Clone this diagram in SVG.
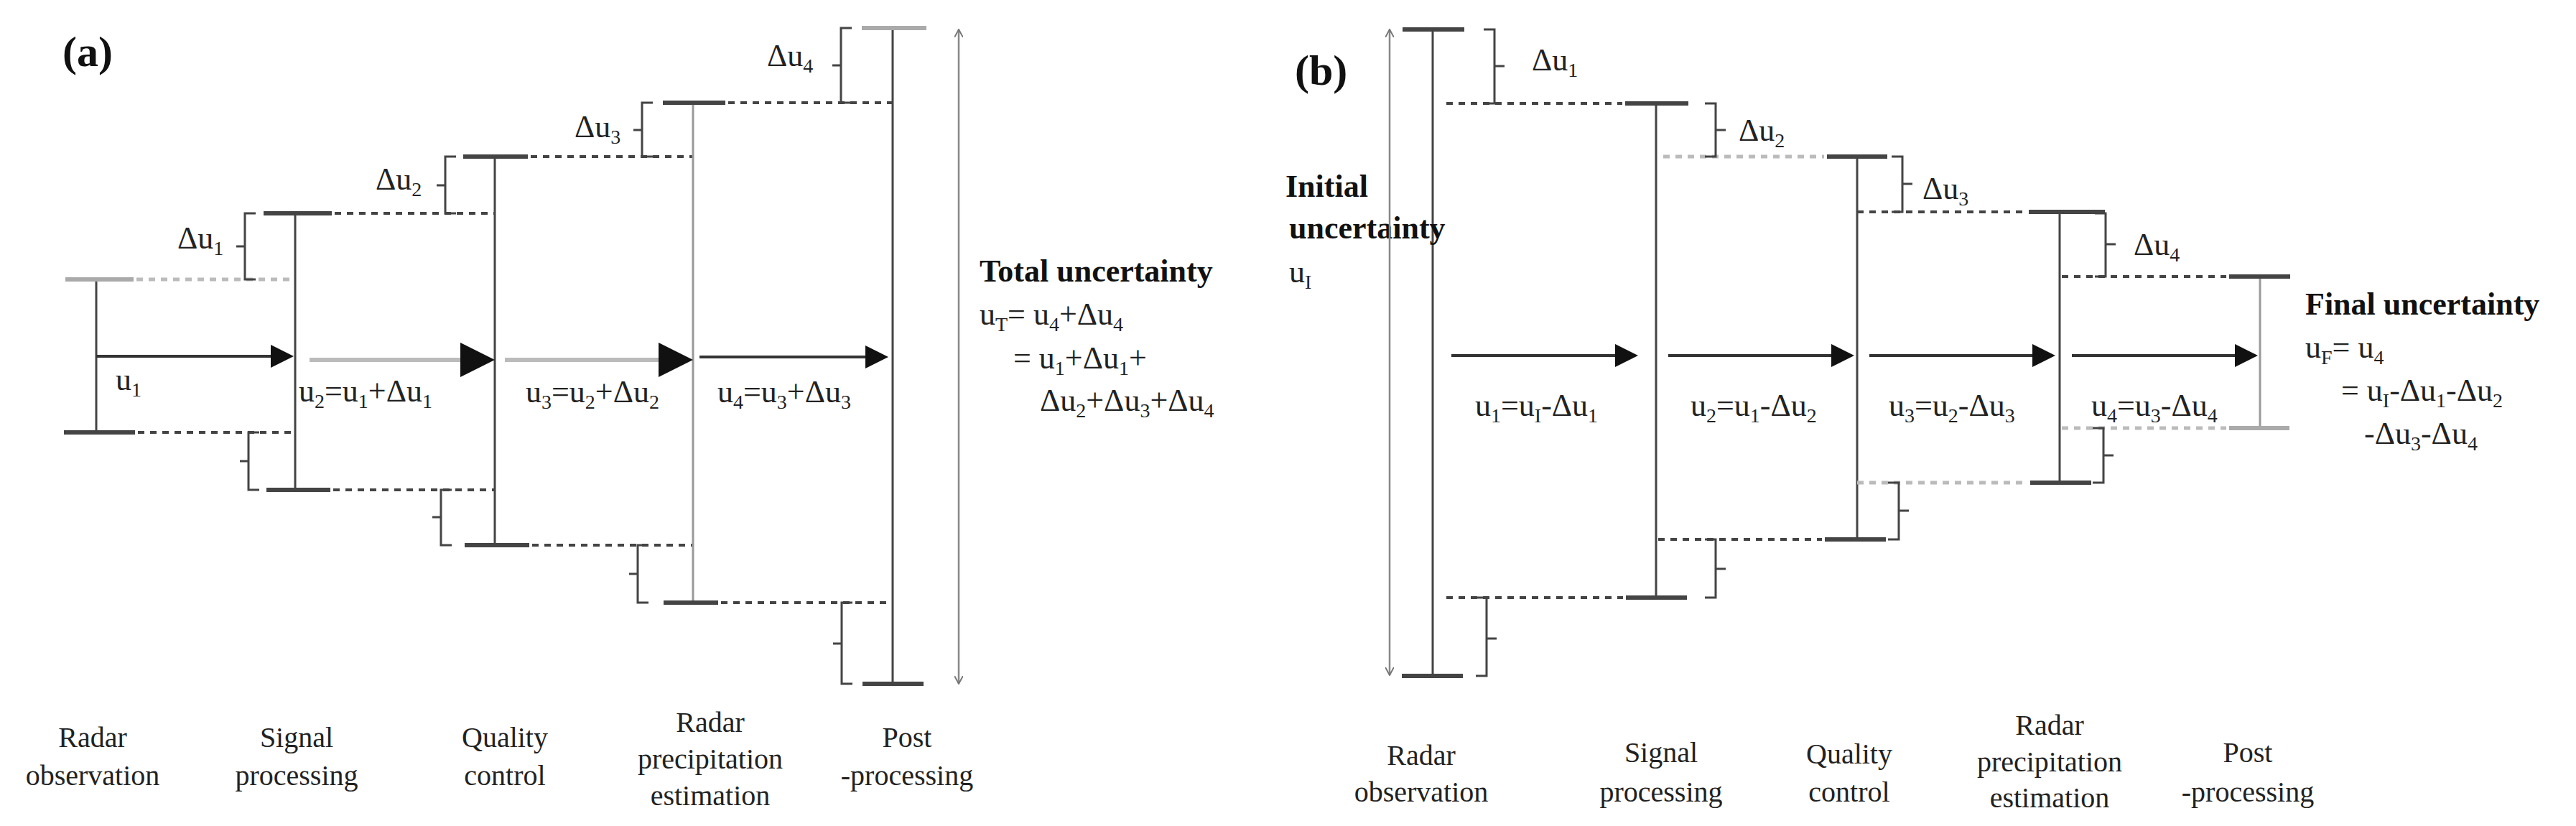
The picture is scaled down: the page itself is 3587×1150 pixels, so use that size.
<svg xmlns="http://www.w3.org/2000/svg" width="3587" height="1150" viewBox="0 0 3587 1150">
<defs>
<marker id="ah" markerWidth="8" markerHeight="8" refX="7" refY="4" orient="auto" markerUnits="strokeWidth"><path d="M0,0 L8,4 L0,8 z" fill="#111"/></marker>
<marker id="open" markerWidth="12" markerHeight="12" refX="11" refY="6" orient="auto-start-reverse" markerUnits="userSpaceOnUse"><path d="M0,0 L11,6 L0,12" fill="none" stroke="#777" stroke-width="2"/></marker>
</defs>
<style>
.t{font-family:"Liberation Serif",serif;font-size:44px;fill:#222}
.h{font-family:"Liberation Serif",serif;font-size:44px;font-weight:bold;fill:#111}
.p{font-family:"Liberation Serif",serif;font-size:60px;font-weight:bold;fill:#111}
.lb{font-family:"Liberation Serif",serif;font-size:40px;fill:#222;text-anchor:middle}
.b{font-size:28px}
.v{stroke:#444;stroke-width:3;fill:none}
.vg{stroke:#999;stroke-width:3;fill:none}
.bar{stroke:#444;stroke-width:6}
.barg{stroke:#aaa;stroke-width:6}
.d{stroke:#444;stroke-width:4;stroke-dasharray:9 8}
.dg{stroke:#bbb;stroke-width:5;stroke-dasharray:9 8}
.br{stroke:#444;stroke-width:3;fill:none}
.ar{stroke:#333;stroke-width:4;marker-end:url(#ah)}
.arg{stroke:#bbb;stroke-width:6;marker-end:url(#ah)}
.dbl{stroke:#888;stroke-width:2.5;marker-start:url(#open);marker-end:url(#open)}
</style>
<rect width="3587" height="1150" fill="#fff"/>

<g id="panel-a">
<text class="p" x="87" y="92">(a)</text>
<g id="a-obs">
<line class="v" x1="134" y1="389" x2="134" y2="602"/>
<line class="barg" x1="91" y1="389" x2="186" y2="389"/><line class="dg" x1="190" y1="389" x2="411" y2="389"/>
<line class="bar" x1="89" y1="602" x2="188" y2="602"/><line class="d" x1="192" y1="602" x2="411" y2="602"/>
<text class="lb" x="129" y="1040">Radar</text><text class="lb" x="129" y="1093">observation</text>
</g>
<g id="a-signal">
<line class="v" x1="411" y1="297" x2="411" y2="682"/>
<line class="bar" x1="367" y1="297" x2="462" y2="297"/><line class="d" x1="466" y1="297" x2="689" y2="297"/>
<line class="bar" x1="371" y1="682" x2="460" y2="682"/><line class="d" x1="464" y1="682" x2="689" y2="682"/>
<text class="lb" x="413" y="1040">Signal</text><text class="lb" x="413" y="1093">processing</text>
</g>
<g id="a-quality">
<line class="v" x1="689" y1="218" x2="689" y2="759"/>
<line class="bar" x1="645" y1="218" x2="735" y2="218"/><line class="d" x1="739" y1="218" x2="965" y2="218"/>
<line class="bar" x1="647" y1="759" x2="737" y2="759"/><line class="d" x1="741" y1="759" x2="965" y2="759"/>
<text class="lb" x="703" y="1040">Quality</text><text class="lb" x="703" y="1093">control</text>
</g>
<g id="a-precip">
<line class="vg" x1="965" y1="143" x2="965" y2="839"/>
<line class="bar" x1="923" y1="143" x2="1010" y2="143"/><line class="d" x1="1014" y1="143" x2="1243" y2="143"/>
<line class="bar" x1="924" y1="839" x2="1000" y2="839"/><line class="d" x1="1004" y1="839" x2="1243" y2="839"/>
<text class="lb" x="989" y="1019">Radar</text><text class="lb" x="989" y="1070">precipitation</text><text class="lb" x="989" y="1121">estimation</text>
</g>
<g id="a-post">
<line class="v" x1="1243" y1="39" x2="1243" y2="952"/>
<line class="barg" x1="1200" y1="39" x2="1290" y2="39"/>
<line class="bar" x1="1201" y1="952" x2="1286" y2="952"/>
<text class="lb" x="1263" y="1040">Post</text><text class="lb" x="1263" y="1093">-processing</text>
</g>
<g id="a-braces">
<path class="br" d="M356,297 H341 V389 H356 M341,343 H329"/>
<path class="br" d="M635,218 H620 V297 H635 M620,258 H608"/>
<path class="br" d="M909,143 H894 V218 H909 M894,181 H882"/>
<path class="br" d="M1186,39 H1171 V143 H1186 M1171,91 H1159"/>
<path class="br" d="M361,602 H346 V682 H361 M346,642 H334"/>
<path class="br" d="M629,682 H614 V759 H629 M614,720 H602"/>
<path class="br" d="M903,759 H888 V839 H903 M888,799 H876"/>
<path class="br" d="M1187,839 H1172 V952 H1187 M1172,896 H1160"/>
<text class="t" x="247" y="346">Δu<tspan class="b" dy="9">1</tspan></text>
<text class="t" x="523" y="264">Δu<tspan class="b" dy="9">2</tspan></text>
<text class="t" x="800" y="191">Δu<tspan class="b" dy="9">3</tspan></text>
<text class="t" x="1068" y="92">Δu<tspan class="b" dy="9">4</tspan></text>
</g>
<g id="a-labels">
<text class="t" x="161" y="543">u<tspan class="b" dy="9">1</tspan></text>
<text class="t" x="416" y="559">u<tspan class="b" dy="9">2</tspan><tspan dy="-9">=u</tspan><tspan class="b" dy="9">1</tspan><tspan dy="-9">+Δu</tspan><tspan class="b" dy="9">1</tspan></text>
<text class="t" x="732" y="560">u<tspan class="b" dy="9">3</tspan><tspan dy="-9">=u</tspan><tspan class="b" dy="9">2</tspan><tspan dy="-9">+Δu</tspan><tspan class="b" dy="9">2</tspan></text>
<text class="t" x="999" y="560">u<tspan class="b" dy="9">4</tspan><tspan dy="-9">=u</tspan><tspan class="b" dy="9">3</tspan><tspan dy="-9">+Δu</tspan><tspan class="b" dy="9">3</tspan></text>
</g>
<g id="a-total">
<text class="h" x="1364" y="392">Total uncertainty</text>
<text class="t" x="1364" y="452">u<tspan class="b" dy="9">T</tspan><tspan dy="-9">= u</tspan><tspan class="b" dy="9">4</tspan><tspan dy="-9">+Δu</tspan><tspan class="b" dy="9">4</tspan></text>
<text class="t" x="1411" y="513">= u<tspan class="b" dy="9">1</tspan><tspan dy="-9">+Δu</tspan><tspan class="b" dy="9">1</tspan><tspan dy="-9">+</tspan></text>
<text class="t" x="1448" y="572">Δu<tspan class="b" dy="9">2</tspan><tspan dy="-9">+Δu</tspan><tspan class="b" dy="9">3</tspan><tspan dy="-9">+Δu</tspan><tspan class="b" dy="9">4</tspan></text>
</g>
</g>

<g id="panel-b">
<text class="p" x="1803" y="118">(b)</text>
<g id="b-obs">
<line class="v" x1="1995" y1="41" x2="1995" y2="941"/>
<line class="bar" x1="1953" y1="41" x2="2039" y2="41"/>
<line class="bar" x1="1952" y1="941" x2="2037" y2="941"/>
<text class="lb" x="1979" y="1065">Radar</text><text class="lb" x="1979" y="1116">observation</text>
</g>
<g id="b-initial">
<text class="h" x="1790" y="274">Initial</text>
<text class="h" x="1795" y="332">uncertainty</text>
<text class="t" x="1795" y="393">u<tspan class="b" dy="9">I</tspan></text>
</g>
<g id="b-signal">
<line class="v" x1="2306" y1="144" x2="2306" y2="832"/>
<line class="d" x1="2014" y1="144" x2="2259" y2="144"/><line class="bar" x1="2263" y1="144" x2="2351" y2="144"/>
<line class="d" x1="2014" y1="832" x2="2260" y2="832"/><line class="bar" x1="2264" y1="832" x2="2349" y2="832"/>
<text class="lb" x="2313" y="1061">Signal</text><text class="lb" x="2313" y="1116">processing</text>
</g>
<g id="b-quality">
<line class="v" x1="2586" y1="218" x2="2586" y2="751"/>
<line class="dg" x1="2316" y1="218" x2="2540" y2="218"/><line class="bar" x1="2544" y1="218" x2="2628" y2="218"/>
<line class="d" x1="2309" y1="751" x2="2537" y2="751"/><line class="bar" x1="2541" y1="751" x2="2626" y2="751"/>
<text class="lb" x="2575" y="1063">Quality</text><text class="lb" x="2575" y="1116">control</text>
</g>
<g id="b-precip">
<line class="v" x1="2868" y1="295" x2="2868" y2="672"/>
<line class="d" x1="2586" y1="295" x2="2821" y2="295"/><line class="bar" x1="2825" y1="295" x2="2931" y2="295"/>
<line class="dg" x1="2586" y1="672" x2="2823" y2="672"/><line class="bar" x1="2827" y1="672" x2="2912" y2="672"/>
<text class="lb" x="2854" y="1023">Radar</text><text class="lb" x="2854" y="1074">precipitation</text><text class="lb" x="2854" y="1124">estimation</text>
</g>
<g id="b-post">
<line class="vg" x1="3147" y1="385" x2="3147" y2="596"/>
<line class="d" x1="2871" y1="385" x2="3100" y2="385"/><line class="bar" x1="3104" y1="385" x2="3189" y2="385"/>
<line class="dg" x1="2871" y1="596" x2="3100" y2="596"/><line class="barg" x1="3104" y1="596" x2="3188" y2="596"/>
<text class="lb" x="3130" y="1061">Post</text><text class="lb" x="3130" y="1116">-processing</text>
</g>
<g id="b-braces">
<path class="br" d="M2066,41 H2081 V144 H2066 M2081,92 H2095"/>
<path class="br" d="M2374,144 H2389 V218 H2374 M2389,181 H2403"/>
<path class="br" d="M2634,218 H2649 V295 H2634 M2649,256 H2663"/>
<path class="br" d="M2917,297 H2932 V385 H2917 M2932,340 H2946"/>
<path class="br" d="M2055,832 H2070 V941 H2055 M2070,889 H2084"/>
<path class="br" d="M2374,751 H2389 V832 H2374 M2389,792 H2403"/>
<path class="br" d="M2629,672 H2644 V751 H2629 M2644,711 H2658"/>
<path class="br" d="M2914,596 H2929 V672 H2914 M2929,634 H2943"/>
<text class="t" x="2133" y="98">Δu<tspan class="b" dy="9">1</tspan></text>
<text class="t" x="2421" y="196">Δu<tspan class="b" dy="9">2</tspan></text>
<text class="t" x="2677" y="277">Δu<tspan class="b" dy="9">3</tspan></text>
<text class="t" x="2971" y="355">Δu<tspan class="b" dy="9">4</tspan></text>
</g>
<g id="b-labels">
<text class="t" x="2054" y="579">u<tspan class="b" dy="9">1</tspan><tspan dy="-9">=u</tspan><tspan class="b" dy="9">I</tspan><tspan dy="-9">-Δu</tspan><tspan class="b" dy="9">1</tspan></text>
<text class="t" x="2354" y="579">u<tspan class="b" dy="9">2</tspan><tspan dy="-9">=u</tspan><tspan class="b" dy="9">1</tspan><tspan dy="-9">-Δu</tspan><tspan class="b" dy="9">2</tspan></text>
<text class="t" x="2630" y="579">u<tspan class="b" dy="9">3</tspan><tspan dy="-9">=u</tspan><tspan class="b" dy="9">2</tspan><tspan dy="-9">-Δu</tspan><tspan class="b" dy="9">3</tspan></text>
<text class="t" x="2912" y="579">u<tspan class="b" dy="9">4</tspan><tspan dy="-9">=u</tspan><tspan class="b" dy="9">3</tspan><tspan dy="-9">-Δu</tspan><tspan class="b" dy="9">4</tspan></text>
</g>
<g id="b-final">
<text class="h" x="3210" y="438">Final uncertainty</text>
<text class="t" x="3210" y="498">u<tspan class="b" dy="9">F</tspan><tspan dy="-9">= u</tspan><tspan class="b" dy="9">4</tspan></text>
<text class="t" x="3260" y="558">= u<tspan class="b" dy="9">I</tspan><tspan dy="-9">-Δu</tspan><tspan class="b" dy="9">1</tspan><tspan dy="-9">-Δu</tspan><tspan class="b" dy="9">2</tspan></text>
<text class="t" x="3292" y="618">-Δu<tspan class="b" dy="9">3</tspan><tspan dy="-9">-Δu</tspan><tspan class="b" dy="9">4</tspan></text>
</g>
</g>

<g id="connectors">
<line class="ar" x1="134" y1="496" x2="405" y2="496"/>
<line class="arg" x1="431" y1="501" x2="683" y2="501"/>
<line class="arg" x1="703" y1="501" x2="959" y2="501"/>
<line class="ar" x1="974" y1="497" x2="1233" y2="497"/>
<line class="dbl" x1="1335" y1="41" x2="1335" y2="952"/>
<line class="dbl" x1="1935" y1="41" x2="1935" y2="940"/>
<line class="ar" x1="2021" y1="495" x2="2277" y2="495"/>
<line class="ar" x1="2323" y1="495" x2="2578" y2="495"/>
<line class="ar" x1="2603" y1="495" x2="2858" y2="495"/>
<line class="ar" x1="2885" y1="495" x2="3140" y2="495"/>
</g>
</svg>
